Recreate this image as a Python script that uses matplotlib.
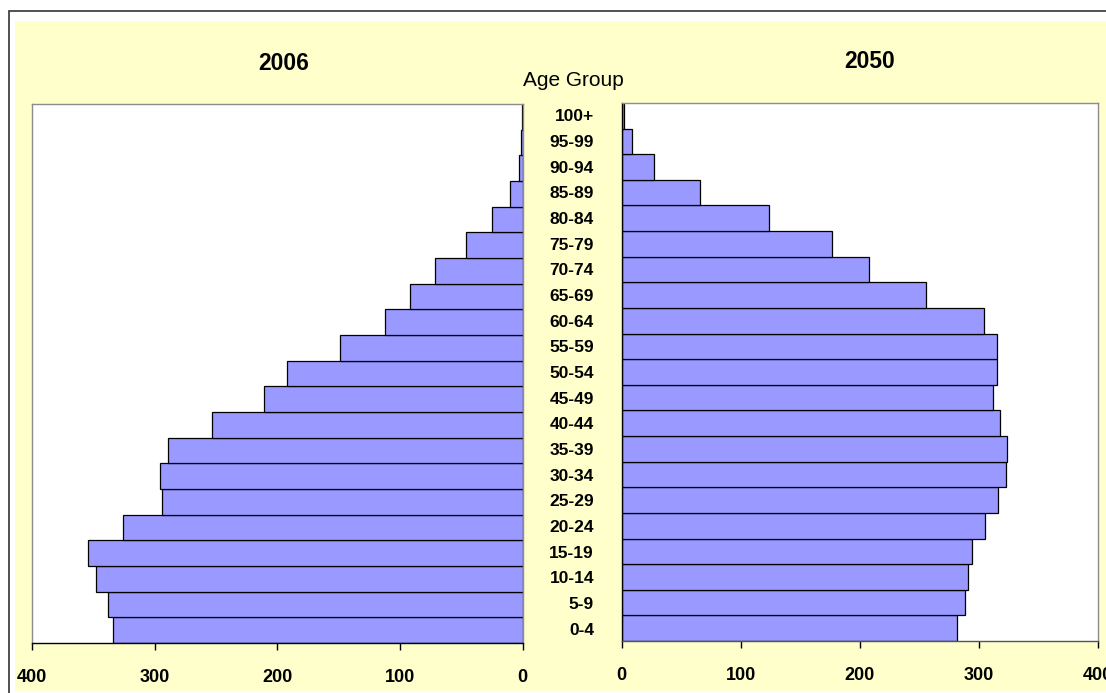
import matplotlib
matplotlib.use("Agg")
import matplotlib.pyplot as plt
import matplotlib.transforms as mtransforms
from matplotlib.patches import Rectangle

plt.rcParams["font.family"] = ["Liberation Sans", "DejaVu Sans"]

# Data (thousands), bottom to top
age_groups = ["0-4", "5-9", "10-14", "15-19", "20-24", "25-29", "30-34", "35-39",
              "40-44", "45-49", "50-54", "55-59", "60-64", "65-69", "70-74",
              "75-79", "80-84", "85-89", "90-94", "95-99", "100+"]
pop_2006 = [334, 338, 348, 354, 326, 294, 296, 289, 253, 211, 192, 149,
            112, 92, 71, 46, 25, 10, 3, 1, 0.4]
pop_2050 = [282, 288, 291, 294, 305, 316, 323, 324, 318, 312, 315, 315,
            304, 256, 208, 177, 124, 66, 27, 9, 2]
x_ticks = [0, 100, 200, 300, 400]

W, H = 1106, 693
fig = plt.figure(figsize=(W / 100, H / 100), dpi=100)
fig.patch.set_facecolor("white")

# outer frame and pale yellow chart area (behind the axes)
fig.add_artist(Rectangle((9 / W, -0.01), 1.1, 1 - 11 / H + 0.01, transform=fig.transFigure,
                         facecolor="white", edgecolor="#333333", linewidth=1.2, zorder=-2))
fig.add_artist(Rectangle((15 / W, 2 / H), 1.0, 1 - 21 / H - 2 / H, transform=fig.transFigure,
                         facecolor="#FFFFCC", edgecolor="none", zorder=-1))


def px_axes(x0, y0, x1, y1):
    return fig.add_axes([x0 / W, 1 - y1 / H, (x1 - x0) / W, (y1 - y0) / H])


bar_color = "#9999FF"
grey = "#8C8C8C"
ypos = list(range(len(age_groups)))

# left panel: 2006
ax_l = px_axes(32, 104, 522.5, 643)
ax_l.barh(ypos, pop_2006, height=1.0, color=bar_color, edgecolor="black", linewidth=0.9)
ax_l.set_xlim(400, 0)
ax_l.set_ylim(-0.5, len(age_groups) - 0.5)

# right panel: 2050
ax_r = px_axes(621.5, 103, 1098, 641)
ax_r.barh(ypos, pop_2050, height=1.0, color=bar_color, edgecolor="black", linewidth=0.9)
ax_r.set_xlim(0, 400)
ax_r.set_ylim(-0.5, len(age_groups) - 0.5)

for ax in (ax_l, ax_r):
    ax.set_facecolor("white")
    ax.set_yticks([])
    ax.set_xticks(x_ticks)
    ax.set_xticklabels([str(t) for t in x_ticks], fontsize=13, fontweight="bold")
    ax.tick_params(axis="x", direction="out", length=5, width=1, color="black", pad=14)
    for s in ax.spines.values():
        s.set_color(grey)
        s.set_linewidth(1)

ax_l.spines["bottom"].set_color("black")
ax_r.spines["left"].set_color("black")
ax_r.spines["bottom"].set_color("#555555")

# titles
fig.text(284 / W, 1 - 63 / H, "2006", ha="center", va="center", fontsize=16.5, fontweight="bold")
fig.text(870 / W, 1 - 61 / H, "2050", ha="center", va="center", fontsize=16.5, fontweight="bold")
fig.text(573 / W, 1 - 80 / H, "Age Group", ha="center", va="center", fontsize=15)

# age group labels between the panels (right aligned)
trans = mtransforms.blended_transform_factory(fig.transFigure, ax_l.transData)
for y, lab in zip(ypos, age_groups):
    fig.text(594 / W, y, lab, transform=trans, ha="right", va="center",
             fontsize=12.5, fontweight="bold")

fig.savefig("out.png", dpi=100, facecolor=fig.get_facecolor())
